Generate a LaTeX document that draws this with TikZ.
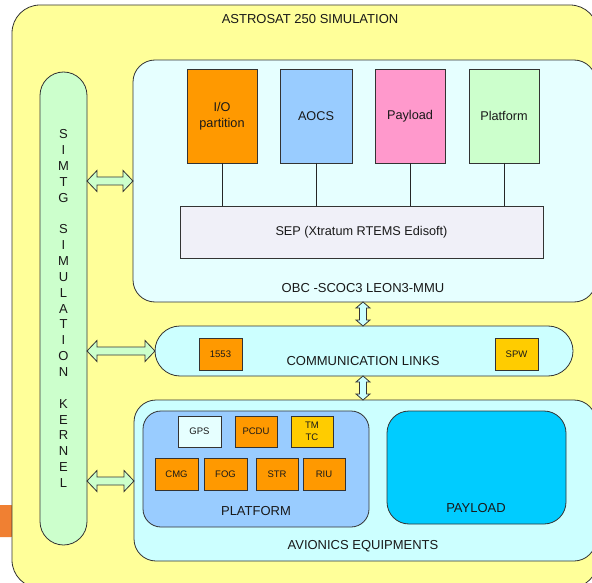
\documentclass[tikz,border=0pt]{standalone}
\usepackage{fontspec}
\setmainfont{Liberation Sans}
\usetikzlibrary{calc}
\definecolor{bgyellow}{HTML}{FFFF99}
\definecolor{lightcyan}{HTML}{E6FFFF}
\definecolor{paleteal}{HTML}{CCFFFF}
\definecolor{mintgreen}{HTML}{CCFFCC}
\definecolor{skyblue}{HTML}{99CCFF}
\definecolor{deepcyan}{HTML}{00CCFF}
\definecolor{partorange}{HTML}{FF9900}
\definecolor{pinkpart}{HTML}{FF99CC}
\definecolor{goldbox}{HTML}{FFCC00}
\definecolor{seplav}{HTML}{F0F0F8}
\definecolor{edge}{HTML}{333333}
\definecolor{blob}{RGB}{240,128,50}

% horizontal hollow double arrow between two points (left, right)
\newcommand\HArrow[3]{%
  \filldraw[#1] (#2) -- ($(#2)+(10,-10.5)$) -- ($(#2)+(10,-4)$) --
    ($(#3)+(-10,-4)$) -- ($(#3)+(-10,-10.5)$) -- (#3) --
    ($(#3)+(-10,10.5)$) -- ($(#3)+(-10,4)$) -- ($(#2)+(10,4)$) --
    ($(#2)+(10,10.5)$) -- cycle;}
% vertical hollow double arrow between two points (top, bottom)
\newcommand\VArrow[3]{%
  \filldraw[#1] (#2) -- ($(#2)+(7,6)$) -- ($(#2)+(3.5,6)$) --
    ($(#3)+(3.5,-6)$) -- ($(#3)+(7,-6)$) -- (#3) --
    ($(#3)+(-7,-6)$) -- ($(#3)+(-3.5,-6)$) -- ($(#2)+(-3.5,6)$) --
    ($(#2)+(-7,6)$) -- cycle;}

\begin{document}
\begin{tikzpicture}[x=1pt,y=-1pt,
  every node/.style={inner sep=0pt, outer sep=0pt, text=black!90},
  box/.style={draw=edge, line width=0.8pt, anchor=north west, align=center},
  bigtxt/.style={font=\fontsize{13}{15}\selectfont},
  parttxt/.style={font=\fontsize{12.7}{15.5}\selectfont},
  smalltxt/.style={font=\fontsize{9.5}{12}\selectfont},
  arrowh/.style={draw=edge, line width=0.8pt, fill=mintgreen},
  arrowv/.style={draw=edge, line width=0.8pt, fill=paleteal},
  wire/.style={draw=black!85, line width=0.8pt}]
\useasboundingbox (0,0) rectangle (592,583);
\clip (0,0) rectangle (592,583);

% orange patch peeking out at the left edge
\fill[blob, rounded corners=3] (-5,505) rectangle (14,537);

% outer simulation frame
\node[box, fill=bgyellow, rounded corners=28, minimum width=586, minimum height=583] (frame) at (12,5) {};
\node[bigtxt] (title) at (310,19) {ASTROSAT 250 SIMULATION};

% simulation kernel pill
\node[box, fill=mintgreen, rounded corners=23.5, minimum width=47, minimum height=473,
  font=\fontsize{13}{15.86}\selectfont] (simtg) at (40,72)
  {S\\I\\M\\T\\G\\[15.86pt]S\\I\\M\\U\\L\\A\\T\\I\\O\\N\\[15.86pt]K\\E\\R\\N\\E\\L};

% on-board computer
\node[box, fill=lightcyan, rounded corners=22, minimum width=463, minimum height=242] (obc) at (133,60) {};
\node[bigtxt] (obclbl) at (363,288) {OBC -SCOC3 LEON3-MMU};

\node[box, parttxt, fill=partorange, minimum width=70, minimum height=94] (io) at (187,69) {I/O\\partition};
\node[box, parttxt, fill=skyblue, minimum width=72, minimum height=94] (aocs) at (280,69) {AOCS};
\node[box, parttxt, fill=pinkpart, minimum width=70, minimum height=94] (pay) at (375,69) {Payload};
\node[box, parttxt, fill=mintgreen, minimum width=70, minimum height=94] (plat) at (469,69) {Platform};

\node[box, parttxt, fill=seplav, minimum width=363, minimum height=52] (sep) at (180,206) {SEP (Xtratum RTEMS Edisoft)};

\foreach \p in {io,aocs,pay,plat}
  \draw[wire] (\p.south) -- (\p.south |- sep.north);

% communication links
\node[box, fill=paleteal, rounded corners=25, minimum width=418, minimum height=50] (comm) at (155,326) {};
\node[bigtxt] (commlbl) at (363,361) {COMMUNICATION LINKS};
\node[box, smalltxt, fill=partorange, minimum width=43, minimum height=32] (b1553) at (199,338) {1553};
\node[box, smalltxt, fill=goldbox, minimum width=43, minimum height=32] (spw) at (495,338) {SPW};

% avionics equipments
\node[box, fill=paleteal, rounded corners=22, minimum width=462, minimum height=161] (avi) at (134,400) {};
\node[bigtxt] (avilbl) at (363,546) {AVIONICS EQUIPMENTS};

\node[box, fill=skyblue, rounded corners=18, minimum width=226, minimum height=116] (platform) at (143,411) {};
\node[bigtxt] (platlbl) at (256,511) {PLATFORM};

\node[box, fill=deepcyan, rounded corners=22, minimum width=179, minimum height=113] (payload) at (387,411) {};
\node[bigtxt] (paylbl) at (476,508) {PAYLOAD};

\node[box, smalltxt, fill=lightcyan, minimum width=43, minimum height=31] (gps) at (178,416) {GPS};
\node[box, smalltxt, fill=partorange, minimum width=42, minimum height=31] (pcdu) at (235,416) {PCDU};
\node[box, smalltxt, fill=goldbox, minimum width=42, minimum height=31] (tmtc) at (291,416) {TM\\TC};
\node[box, smalltxt, fill=partorange, minimum width=43, minimum height=32] (cmg) at (155,458) {CMG};
\node[box, smalltxt, fill=partorange, minimum width=43, minimum height=32] (fog) at (204,458) {FOG};
\node[box, smalltxt, fill=partorange, minimum width=42, minimum height=32] (str) at (256,458) {STR};
\node[box, smalltxt, fill=partorange, minimum width=42, minimum height=32] (riu) at (303,458) {RIU};

% kernel <-> subsystems
\coordinate (k1) at (simtg.east |- 0,181);
\coordinate (o1) at (obc.west |- 0,181);
\coordinate (k2) at (simtg.east |- 0,351);
\coordinate (c2) at (comm.west |- 0,351);
\coordinate (k3) at (simtg.east |- 0,481);
\coordinate (a3) at (avi.west |- 0,481);
\HArrow{arrowh}{k1}{o1}
\HArrow{arrowh}{k2}{c2}
\HArrow{arrowh}{k3}{a3}

% OBC <-> links <-> avionics
\coordinate (ob) at (363,0 |- obc.south);
\coordinate (ct) at (363,0 |- comm.north);
\coordinate (cb) at (363,0 |- comm.south);
\coordinate (at) at (363,0 |- avi.north);
\VArrow{arrowv}{ob}{ct}
\VArrow{arrowv}{cb}{at}
\end{tikzpicture}
\end{document}
